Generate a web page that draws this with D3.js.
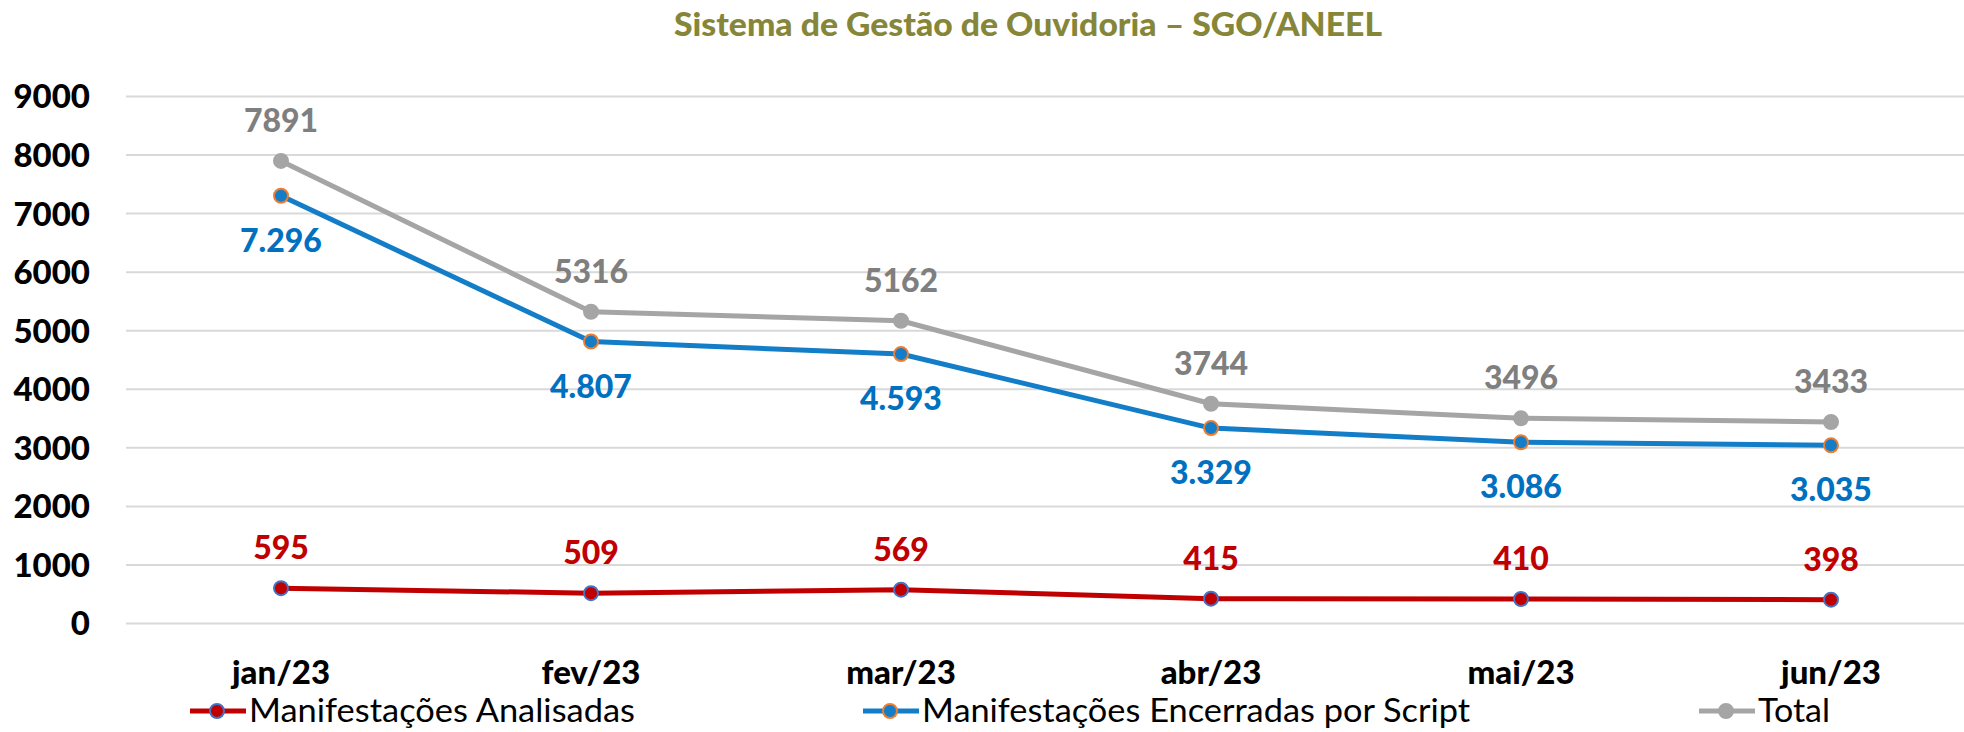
<!DOCTYPE html>
<html>
<head>
<meta charset="utf-8">
<script src="https://cdnjs.cloudflare.com/ajax/libs/d3/7.8.5/d3.min.js"></script>
<style>
  body { margin: 0; background: #fff; }
  svg { display: block; font-family: Lato, "Open Sans", sans-serif; }
</style>
</head>
<body>
<div id="chart"></div>
<script>
// dados
var meses = ["jan/23", "fev/23", "mar/23", "abr/23", "mai/23", "jun/23"];
var analisadas = [595, 509, 569, 415, 410, 398];
var encerradas = [7296, 4807, 4593, 3329, 3086, 3035];
var total = [7891, 5316, 5162, 3744, 3496, 3433];
var yTicks = [0, 1000, 2000, 3000, 4000, 5000, 6000, 7000, 8000, 9000];

var W = 1964, H = 732;
var plotLeft = 126, plotTop = 96, plotBottom = 623;

var svg = d3.select("#chart").append("svg")
    .attr("width", W)
    .attr("height", H);

var x = d3.scaleBand()
    .domain(meses)
    .range([plotLeft, plotLeft + 310 * 6]);

var y = d3.scaleLinear()
    .domain([0, 9000])
    .range([plotBottom, plotTop]);

var ptBR = d3.formatLocale({decimal: ",", thousands: ".", grouping: [3], currency: ["R$", ""]});
var fmtPonto = ptBR.format(",d");

// titulo
svg.append("text")
    .attr("x", 1028).attr("y", 36)
    .attr("text-anchor", "middle")
    .attr("font-size", 33).attr("font-weight", "900")
    .attr("fill", "#868639")
    .attr("textLength", 708).attr("lengthAdjust", "spacingAndGlyphs")
    .text("Sistema de Gestão de Ouvidoria – SGO/ANEEL");

// eixo y + grade
var gy = svg.append("g")
    .attr("transform", "translate(" + plotLeft + ",0)")
    .call(d3.axisLeft(y).tickValues(yTicks).tickFormat(d3.format("d"))
        .tickSizeInner(-(W - plotLeft)).tickSizeOuter(0).tickPadding(36));
gy.select(".domain").remove();
gy.selectAll(".tick line").attr("stroke", "#d9d9d9").attr("stroke-width", 2);
gy.selectAll(".tick text")
    .attr("font-family", "Lato, sans-serif")
    .attr("font-size", 33).attr("font-weight", "900")
    .attr("fill", "#000").attr("dy", "0.36em");

// eixo x
var gx = svg.append("g")
    .attr("transform", "translate(0," + plotBottom + ")")
    .call(d3.axisBottom(x).tickSize(0));
gx.select(".domain").remove();
gx.selectAll(".tick text")
    .attr("font-family", "Lato, sans-serif")
    .attr("font-size", 33).attr("font-weight", "900")
    .attr("fill", "#000")
    .attr("y", 61).attr("dy", 0);

var series = [
  {nome: "Manifestações Analisadas", vals: analisadas, cor: "#c00000", borda: "#4472c4", texto: "#c00000", fmt: String, dy: -29},
  {nome: "Manifestações Encerradas por Script", vals: encerradas, cor: "#137dc8", borda: "#ed7d31", texto: "#0070c0", fmt: fmtPonto, dy: 56},
  {nome: "Total", vals: total, cor: "#a5a5a5", borda: "#a5a5a5", texto: "#7f7f7f", fmt: String, dy: -29}
];

var line = d3.line()
    .x(function(d, i) { return x(meses[i]) + x.bandwidth() / 2; })
    .y(function(d) { return y(d); });

series.forEach(function(s) {
    var g = svg.append("g");
    g.append("path")
        .attr("d", line(s.vals))
        .attr("fill", "none")
        .attr("stroke", s.cor)
        .attr("stroke-width", 5)
        .attr("stroke-linejoin", "round");
    g.selectAll("circle")
        .data(s.vals)
        .enter().append("circle")
        .attr("cx", function(d, i) { return x(meses[i]) + x.bandwidth() / 2; })
        .attr("cy", function(d) { return y(d); })
        .attr("r", 7)
        .attr("fill", s.cor)
        .attr("stroke", s.borda)
        .attr("stroke-width", 2);
    g.selectAll("text")
        .data(s.vals)
        .enter().append("text")
        .attr("x", function(d, i) { return x(meses[i]) + x.bandwidth() / 2; })
        .attr("y", function(d) { return y(d) + s.dy; })
        .attr("text-anchor", "middle")
        .attr("font-size", 32).attr("font-weight", "900")
        .attr("fill", s.texto)
        .text(function(d) { return s.fmt(d); });
});

// legenda
var legPos = [
  {x0: 190, tx: 249, w: 386},
  {x0: 863, tx: 922, w: 548},
  {x0: 1699, tx: 1758, w: 72}
];
series.forEach(function(s, i) {
    var p = legPos[i];
    var g = svg.append("g").attr("transform", "translate(0,711)");
    g.append("line")
        .attr("x1", p.x0).attr("x2", p.x0 + 56)
        .attr("stroke", s.cor).attr("stroke-width", 5);
    g.append("circle")
        .attr("cx", p.x0 + 27).attr("r", 7)
        .attr("fill", s.cor).attr("stroke", s.borda).attr("stroke-width", 2);
    g.append("text")
        .attr("x", p.tx).attr("y", 11)
        .attr("font-size", 32)
        .attr("fill", "#000")
        .attr("textLength", p.w).attr("lengthAdjust", "spacingAndGlyphs")
        .text(s.nome);
});
</script>
</body>
</html>
